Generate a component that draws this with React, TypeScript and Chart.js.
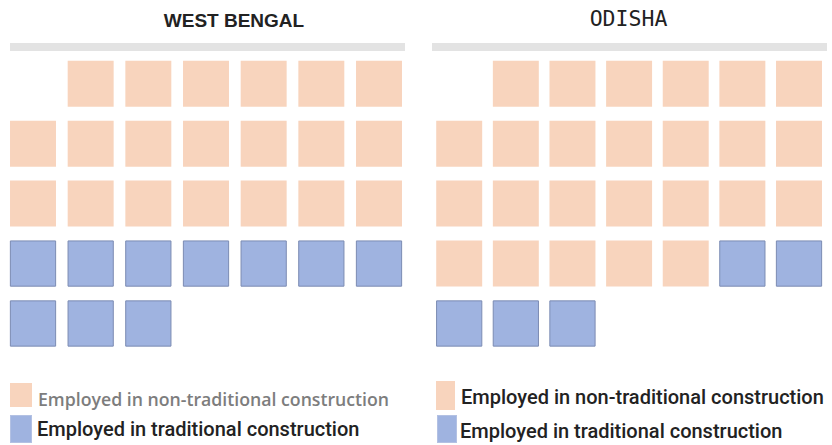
import React, { useEffect, useRef } from "react";
import { Chart, registerables } from "chart.js";

Chart.register(...registerables);

// ---- data ----
const states = ["WEST BENGAL", "ODISHA"];
const nonTraditional = [20, 25]; // squares employed in non-traditional construction
const traditional = [10, 5]; // squares employed in traditional construction
const seriesLabels = [
  "Employed in non-traditional construction",
  "Employed in traditional construction",
];
const gridColumns = 7;
const gridOffset = 1; // first row starts one cell in

const PEACH = "#f8d4bd";
const BLUE = "#9fb3e0";
const BLUE_BORDER = "#7c8cb3";

function cellsFor(start: number, count: number) {
  const pts: { x: number; y: number }[] = [];
  for (let i = start; i < start + count; i++) {
    const p = i + gridOffset;
    pts.push({ x: (p % gridColumns) + 1, y: Math.floor(p / gridColumns) + 1 });
  }
  return pts;
}

function Waffle({ idx, pad }: { idx: number; pad: { left: number; right: number; top: number; bottom: number } }) {
  const ref = useRef<HTMLCanvasElement | null>(null);
  useEffect(() => {
    if (!ref.current) return;
    const nt = nonTraditional[idx];
    const tr = traditional[idx];
    const chart = new Chart(ref.current, {
      type: "scatter",
      data: {
        datasets: [
          {
            label: seriesLabels[0],
            data: cellsFor(0, nt),
            pointStyle: "rect",
            pointRadius: 32.5,
            pointHoverRadius: 32.5,
            backgroundColor: PEACH,
            borderColor: PEACH,
            borderWidth: 0,
            clip: false as any,
          },
          {
            label: seriesLabels[1],
            data: cellsFor(nt, tr),
            pointStyle: "rect",
            pointRadius: 32,
            pointHoverRadius: 32,
            backgroundColor: BLUE,
            borderColor: BLUE_BORDER,
            borderWidth: 1,
            clip: false as any,
          },
        ],
      },
      options: {
        animation: false,
        responsive: false,
        maintainAspectRatio: false,
        layout: { padding: pad },
        plugins: { legend: { display: false }, tooltip: { enabled: false }, title: { display: false } },
        scales: {
          x: { type: "linear", min: 1, max: gridColumns, display: false },
          y: { type: "linear", min: 1, max: 5, reverse: true, display: false },
        },
      },
    });
    return () => chart.destroy();
  }, [idx]);
  return <canvas ref={ref} width={416} height={380} style={{ display: "block", width: 416, height: 380 }} />;
}

const legendFont = "Roboto, 'Noto Sans', sans-serif";
const textBase: React.CSSProperties = { position: "absolute", whiteSpace: "nowrap", color: "#222" };

export default function App() {
  return (
    <div style={{ position: "fixed", left: 0, top: 0, width: 832, height: 445, background: "#fff", overflow: "hidden" }}>
      {/* titles */}
      <div style={{ ...textBase, left: 134, width: 200, top: 9.5, lineHeight: "22px", textAlign: "center", font: "bold 19px 'Liberation Sans', Arial, sans-serif" }}>
        {states[0]}
      </div>
      <div style={{ ...textBase, left: 528.5, width: 200, top: 6.2, textAlign: "center", fontFamily: "'DejaVu Sans Mono', monospace", fontSize: "21.5px", lineHeight: "26px" }}>
        {states[1]}
      </div>
      {/* grey rules */}
      <div style={{ position: "absolute", left: 10, width: 395, top: 43, height: 8, background: "#e3e3e3" }} />
      <div style={{ position: "absolute", left: 432, width: 395, top: 43, height: 8, background: "#e3e3e3" }} />
      {/* charts */}
      <div style={{ position: "absolute", left: 0, top: 0 }}>
        <Waffle idx={0} pad={{ left: 32.7, right: 37, top: 83.7, bottom: 56.5 }} />
      </div>
      <div style={{ position: "absolute", left: 416, top: 0 }}>
        <Waffle idx={1} pad={{ left: 43.2, right: 27.7, top: 83.7, bottom: 56.5 }} />
      </div>
      {/* legends */}
      <div style={{ position: "absolute", left: 10, top: 383, width: 22, height: 24, background: PEACH }} />
      <div style={{ ...textBase, left: 38, top: 387, lineHeight: "24px", fontFamily: "'Open Sans', sans-serif", fontWeight: 600, fontSize: "17.7px", color: "#7d7d7d" }}>
        {seriesLabels[0]}
      </div>
      <div style={{ position: "absolute", left: 10, top: 415, width: 22, height: 28, background: BLUE, boxSizing: "border-box", border: `1px solid #b3c1e3` }} />
      <div style={{ ...textBase, left: 37, top: 417, lineHeight: "24px", fontFamily: legendFont, fontWeight: 500, fontSize: "20px" }}>
        {seriesLabels[1]}
      </div>
      <div style={{ position: "absolute", left: 436, top: 381, width: 19, height: 29, background: PEACH }} />
      <div style={{ ...textBase, left: 461, top: 385, lineHeight: "24px", fontFamily: legendFont, fontWeight: 500, fontSize: "20px" }}>
        {seriesLabels[0]}
      </div>
      <div style={{ position: "absolute", left: 437, top: 415, width: 20, height: 28, background: BLUE, boxSizing: "border-box", border: `1px solid #b3c1e3` }} />
      <div style={{ ...textBase, left: 460, top: 419, lineHeight: "24px", fontFamily: legendFont, fontWeight: 500, fontSize: "20px" }}>
        {seriesLabels[1]}
      </div>
    </div>
  );
}
